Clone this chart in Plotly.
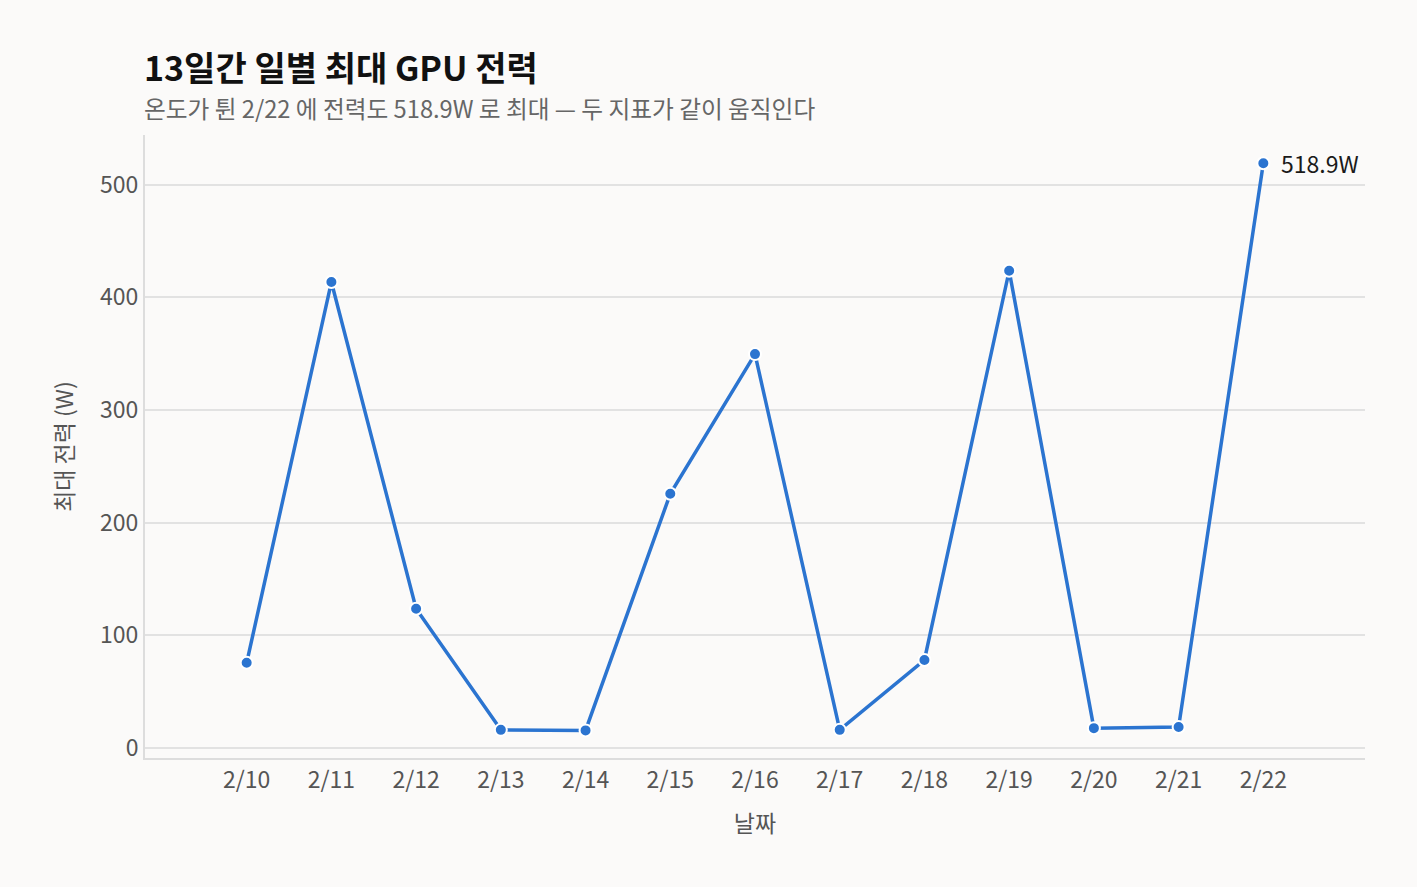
import plotly.graph_objects as go

# 일별 최대 GPU 전력 (W)
dates = ["2/10", "2/11", "2/12", "2/13", "2/14", "2/15", "2/16",
         "2/17", "2/18", "2/19", "2/20", "2/21", "2/22"]
max_power = [75.5, 413.5, 123.5, 16.0, 15.5, 225.5, 349.5,
             16.0, 78.0, 423.5, 17.5, 18.5, 518.9]
y_ticks = [0, 100, 200, 300, 400, 500]

font_family = "Noto Sans CJK KR, Noto Sans, sans-serif"
line_color = "#2b74d0"
bg = "#fbfaf9"

fig = go.Figure()
fig.add_trace(go.Scatter(
    x=dates,
    y=max_power,
    mode="lines+markers",
    line=dict(color=line_color, width=3.5),
    marker=dict(size=12, color=line_color, line=dict(color="white", width=2)),
    cliponaxis=False,
    showlegend=False,
))

# 최댓값 라벨
fig.add_annotation(
    x=dates[-1], y=max_power[-1],
    text=f"{max_power[-1]}W",
    showarrow=False,
    xanchor="left", yanchor="middle",
    xshift=16,
    font=dict(size=23, color="#1a1a1a", family=font_family),
)

# 제목 / 부제
fig.add_annotation(
    xref="paper", yref="paper", x=0, y=1.11,
    text="<b>13일간 일별 최대 GPU 전력</b>",
    showarrow=False, xanchor="left", yanchor="middle", xshift=-3,
    font=dict(size=34, color="#111111", family=font_family),
)
fig.add_annotation(
    xref="paper", yref="paper", x=0, y=1.044,
    text="온도가 튄 2/22 에 전력도 518.9W 로 최대 — 두 지표가 같이 움직인다",
    showarrow=False, xanchor="left", yanchor="middle", xshift=-3,
    font=dict(size=23.7, color="#666666", family=font_family),
)

fig.update_layout(
    width=1417,
    height=887,
    paper_bgcolor=bg,
    plot_bgcolor=bg,
    font=dict(family=font_family, size=23, color="#555555"),
    margin=dict(l=145, r=52, t=135, b=129),
    xaxis=dict(
        type="category",
        range=[-1.2, 13.2],
        showgrid=False,
        showline=True,
        linecolor="#dddddd",
        linewidth=2,
        ticks="",
        tickfont=dict(size=23, color="#555555"),
        title=dict(text="날짜", font=dict(size=23, color="#555555"), standoff=22),
    ),
    yaxis=dict(
        range=[-9, 544],
        tickvals=y_ticks,
        showgrid=True,
        gridcolor="#e2e2e2",
        gridwidth=1.5,
        zeroline=False,
        showline=True,
        linecolor="#dddddd",
        linewidth=2,
        ticks="",
        tickfont=dict(size=23, color="#555555"),
        title=dict(text="최대 전력 (W)", font=dict(size=23, color="#555555"), standoff=20),
    ),
)

fig.write_html(
    "out.html",
    config={"displayModeBar": False},
    post_script=f"document.body.style.margin='0';document.body.style.background='{bg}';",
)
